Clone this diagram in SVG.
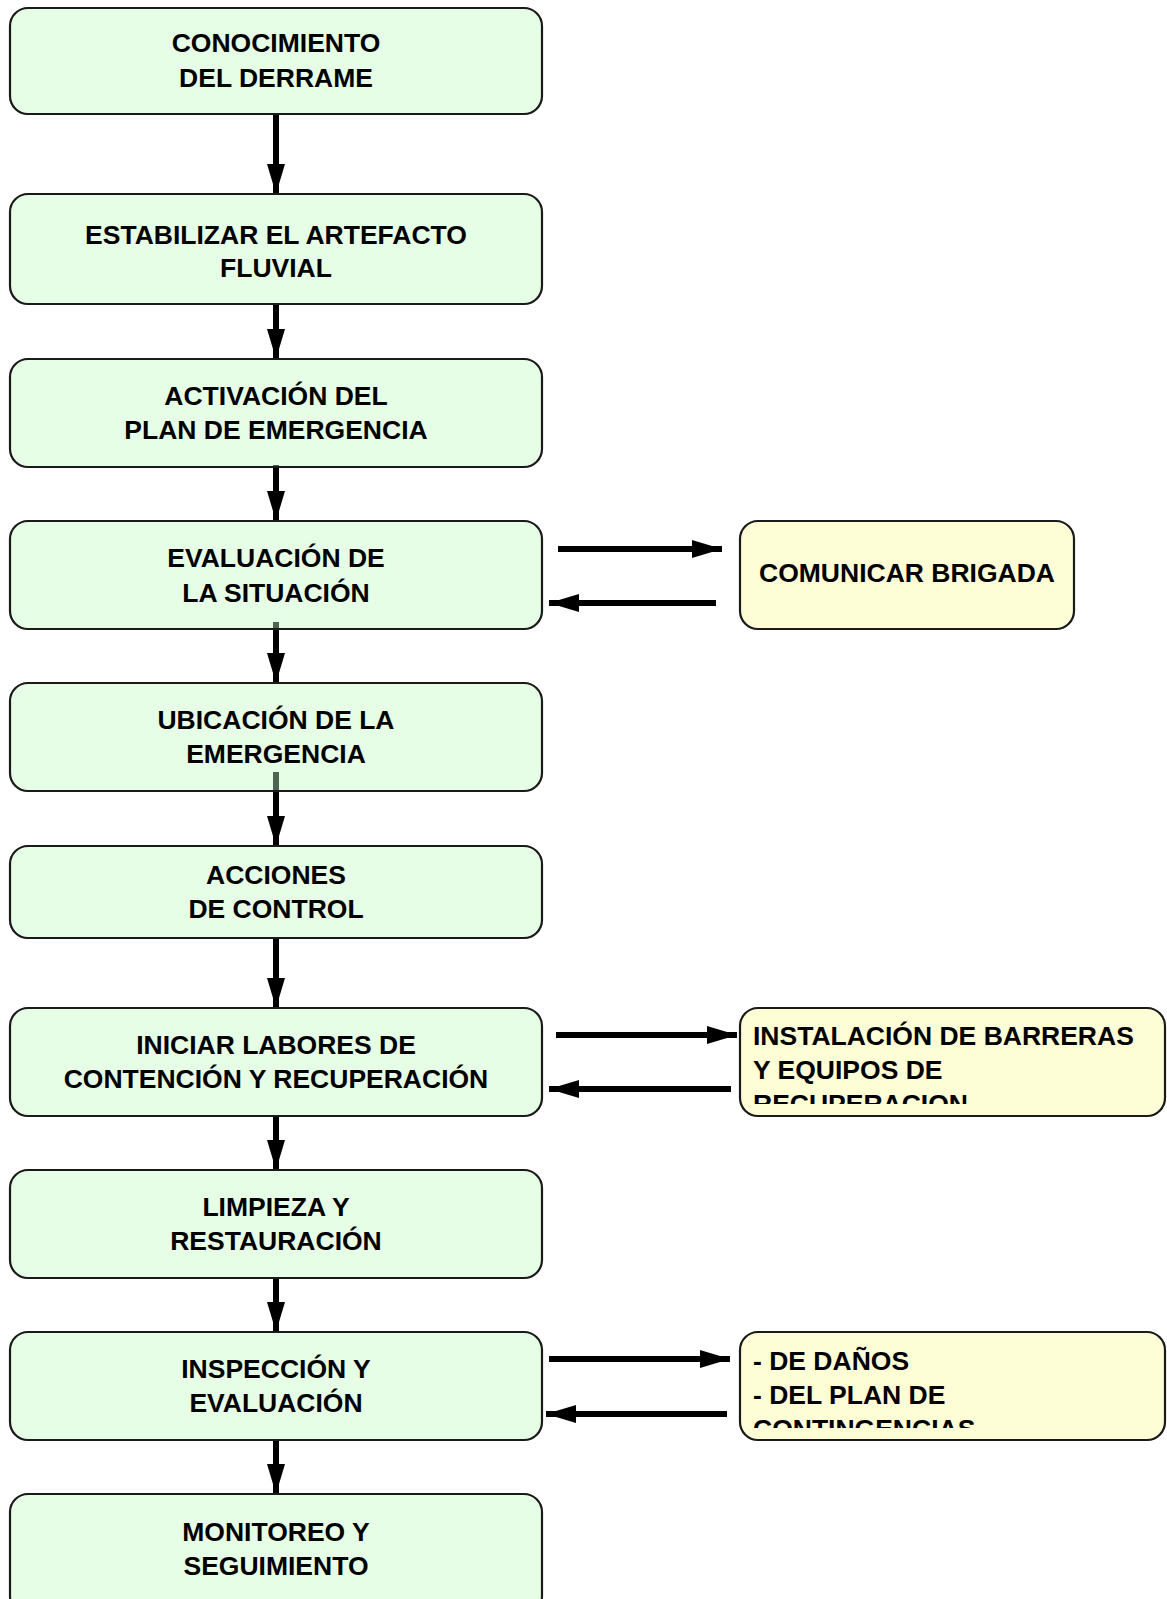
<svg xmlns="http://www.w3.org/2000/svg" width="1167" height="1599" viewBox="0 0 1167 1599">
  <style>
    .step { fill: #e6fde6; stroke: #1a1a1a; stroke-width: 2.2; }
    .side { fill: #fdfdd6; stroke: #1a1a1a; stroke-width: 2.2; }
    .lbl { font-family: "Liberation Sans", Arial, sans-serif; font-weight: bold; font-size: 26.5px; fill: #000; }
    .c { text-anchor: middle; }
    .wire { stroke: #000; stroke-width: 6; fill: none; }
    .tail { stroke: #4e6352; stroke-width: 6; fill: none; }
  </style>
  <defs>
    <marker id="head" viewBox="0 0 30 18" refX="30" refY="9" markerWidth="30" markerHeight="18" markerUnits="userSpaceOnUse" orient="auto">
      <path d="M0,0 L30,9 L0,18 Z" fill="#000"/>
    </marker>
    <clipPath id="clipInst"><rect x="740" y="1008" width="426" height="96"/></clipPath>
    <clipPath id="clipDan"><rect x="740" y="1332" width="426" height="96"/></clipPath>
  </defs>

  <rect width="1167" height="1599" fill="#fff"/>

  <!-- connectors -->
  <g id="connectors">
    <line class="wire" x1="276" y1="114" x2="276" y2="194" marker-end="url(#head)"/>
    <line class="wire" x1="276" y1="304" x2="276" y2="359" marker-end="url(#head)"/>
    <line class="wire" x1="276" y1="467" x2="276" y2="521" marker-end="url(#head)"/>
    <line class="wire" x1="276" y1="629" x2="276" y2="683" marker-end="url(#head)"/>
    <line class="wire" x1="276" y1="791" x2="276" y2="846" marker-end="url(#head)"/>
    <line class="wire" x1="276" y1="938" x2="276" y2="1008" marker-end="url(#head)"/>
    <line class="wire" x1="276" y1="1116" x2="276" y2="1170" marker-end="url(#head)"/>
    <line class="wire" x1="276" y1="1278" x2="276" y2="1332" marker-end="url(#head)"/>
    <line class="wire" x1="276" y1="1440" x2="276" y2="1494" marker-end="url(#head)"/>

    <line class="wire" x1="558" y1="549" x2="722" y2="549" marker-end="url(#head)"/>
    <line class="wire" x1="716" y1="603" x2="549" y2="603" marker-end="url(#head)"/>
    <line class="wire" x1="556" y1="1035" x2="737" y2="1035" marker-end="url(#head)"/>
    <line class="wire" x1="731" y1="1089" x2="549" y2="1089" marker-end="url(#head)"/>
    <line class="wire" x1="549" y1="1359" x2="730" y2="1359" marker-end="url(#head)"/>
    <line class="wire" x1="727" y1="1414" x2="546" y2="1414" marker-end="url(#head)"/>
  </g>

  <!-- main sequence -->
  <g id="n1"><rect class="step" x="10" y="8" width="532" height="106" rx="18"/>
    <text class="lbl c" x="276" y="52">CONOCIMIENTO</text><text class="lbl c" x="276" y="87">DEL DERRAME</text></g>
  <g id="n2"><rect class="step" x="10" y="194" width="532" height="110" rx="18"/>
    <text class="lbl c" x="276" y="244">ESTABILIZAR EL ARTEFACTO</text><text class="lbl c" x="276" y="277">FLUVIAL</text></g>
  <g id="n3"><rect class="step" x="10" y="359" width="532" height="108" rx="18"/>
    <text class="lbl c" x="276" y="405">ACTIVACIÓN DEL</text><text class="lbl c" x="276" y="439">PLAN DE EMERGENCIA</text></g>
  <g id="n4"><rect class="step" x="10" y="521" width="532" height="108" rx="18"/>
    <text class="lbl c" x="276" y="567">EVALUACIÓN DE</text><text class="lbl c" x="276" y="602">LA SITUACIÓN</text></g>
  <g id="n5"><rect class="step" x="10" y="683" width="532" height="108" rx="18"/>
    <text class="lbl c" x="276" y="729">UBICACIÓN DE LA</text><text class="lbl c" x="276" y="763">EMERGENCIA</text></g>
  <g id="n6"><rect class="step" x="10" y="846" width="532" height="92" rx="18"/>
    <text class="lbl c" x="276" y="884">ACCIONES</text><text class="lbl c" x="276" y="918">DE CONTROL</text></g>
  <g id="n7"><rect class="step" x="10" y="1008" width="532" height="108" rx="18"/>
    <text class="lbl c" x="276" y="1054">INICIAR LABORES DE</text><text class="lbl c" x="276" y="1088">CONTENCIÓN Y RECUPERACIÓN</text></g>
  <g id="n8"><rect class="step" x="10" y="1170" width="532" height="108" rx="18"/>
    <text class="lbl c" x="276" y="1216">LIMPIEZA Y</text><text class="lbl c" x="276" y="1250">RESTAURACIÓN</text></g>
  <g id="n9"><rect class="step" x="10" y="1332" width="532" height="108" rx="18"/>
    <text class="lbl c" x="276" y="1378">INSPECCIÓN Y</text><text class="lbl c" x="276" y="1412">EVALUACIÓN</text></g>
  <g id="n10"><rect class="step" x="10" y="1494" width="532" height="120" rx="18"/>
    <text class="lbl c" x="276" y="1541">MONITOREO Y</text><text class="lbl c" x="276" y="1575">SEGUIMIENTO</text></g>

  <!-- connector tails showing through the step boxes -->
  <g id="tails">
    <line class="tail" x1="276" y1="465" x2="276" y2="466"/>
    <line class="tail" x1="276" y1="622" x2="276" y2="628"/>
    <line class="tail" x1="276" y1="772" x2="276" y2="790"/>
  </g>

  <!-- side boxes -->
  <g id="s1"><rect class="side" x="740" y="521" width="334" height="108" rx="18"/>
    <text class="lbl c" x="907" y="582">COMUNICAR BRIGADA</text></g>
  <g id="s2"><rect class="side" x="740" y="1008" width="425" height="108" rx="18"/>
    <g clip-path="url(#clipInst)">
      <text class="lbl" x="753" y="1045">INSTALACIÓN DE BARRERAS</text>
      <text class="lbl" x="753" y="1079">Y EQUIPOS DE</text>
      <text class="lbl" x="753" y="1113">RECUPERACION</text>
    </g></g>
  <g id="s3"><rect class="side" x="740" y="1332" width="425" height="108" rx="18"/>
    <g clip-path="url(#clipDan)">
      <text class="lbl" x="753" y="1370">- DE DAÑOS</text>
      <text class="lbl" x="753" y="1404">- DEL PLAN DE</text>
      <text class="lbl" x="753" y="1438">CONTINGENCIAS</text>
    </g></g>
</svg>
